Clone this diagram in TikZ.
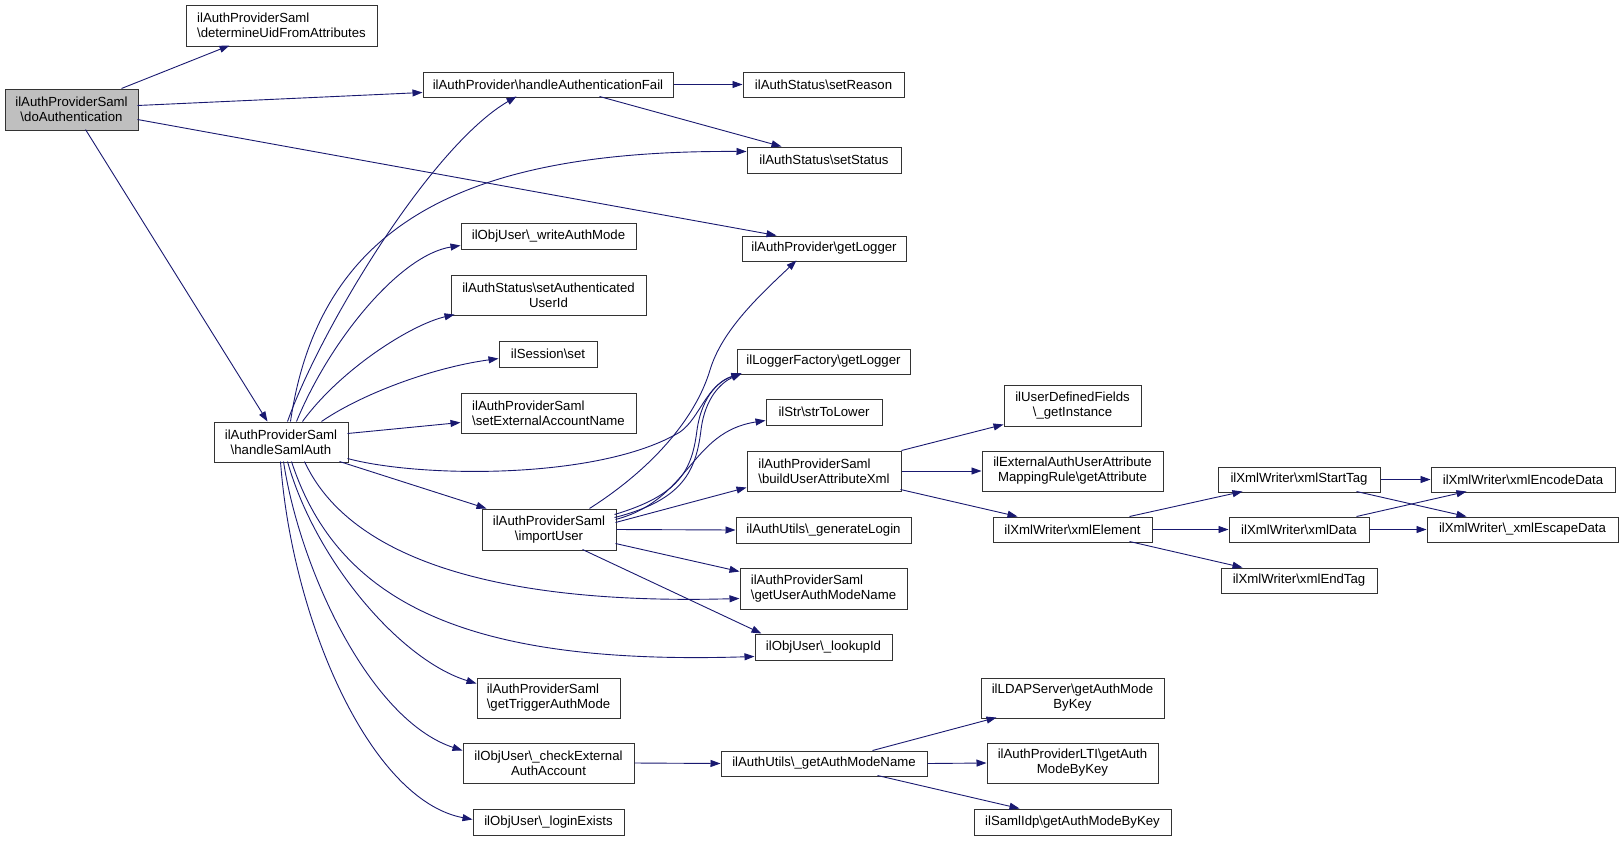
\documentclass[tikz,border=0pt]{standalone}
\usepackage{fontspec}
\setmainfont{Liberation Sans}
\usetikzlibrary{arrows.meta,calc}
\definecolor{eblue}{HTML}{191970}
\definecolor{rootfill}{HTML}{BFBFBF}
\newcommand\bsl{\textbackslash}
\newcommand\nfs{\fontsize{13.2}{15}\selectfont}
\begin{document}
\begin{tikzpicture}[x=1pt,y=-1pt,
  nd/.style={draw=black!80, line width=1pt, fill=white, inner sep=0pt, font=\nfs, align=center},
  ndl/.style={nd, align=left},
  ed/.style={draw=eblue, line width=0.9pt, -{Triangle[length=10pt,width=7pt]}, fill=none},
]
\useasboundingbox (0,0) rectangle (1624,841);
% nodes: center, width, height
\node[nd, fill=rootfill, minimum width=133, minimum height=41] (doAuth) at (71.5,109.5) {ilAuthProviderSaml\\\bsl doAuthentication};
\node[ndl, minimum width=191, minimum height=41] (detUid) at (281.5,25.5) {ilAuthProviderSaml\\\bsl determineUidFromAttributes};
\node[nd, minimum width=250, minimum height=25] (hAF) at (548,84.5) {ilAuthProvider\bsl handleAuthenticationFail};
\node[nd, minimum width=161, minimum height=25] (setReason) at (823.5,84.5) {ilAuthStatus\bsl setReason};
\node[nd, minimum width=154, minimum height=26] (setStatus) at (824,160) {ilAuthStatus\bsl setStatus};
\node[nd, minimum width=164, minimum height=25] (apLog) at (824,248.5) {ilAuthProvider\bsl getLogger};
\node[nd, minimum width=175, minimum height=26] (writeAM) at (548.5,236) {ilObjUser\bsl\_writeAuthMode};
\node[nd, minimum width=195, minimum height=40] (setAU) at (548.5,295) {ilAuthStatus\bsl setAuthenticated\\UserId};
\node[nd, minimum width=98, minimum height=26] (sess) at (548,354) {ilSession\bsl set};
\node[ndl, minimum width=175, minimum height=40] (setEA) at (548.5,413) {ilAuthProviderSaml\\\bsl setExternalAccountName};
\node[nd, minimum width=134, minimum height=40] (hSA) at (281,442) {ilAuthProviderSaml\\\bsl handleSamlAuth};
\node[nd, minimum width=173, minimum height=25] (lfLog) at (823.5,361.5) {ilLoggerFactory\bsl getLogger};
\node[nd, minimum width=116, minimum height=26] (strLow) at (824,412) {ilStr\bsl strToLower};
\node[ndl, minimum width=154, minimum height=40] (bXml) at (824,471) {ilAuthProviderSaml\\\bsl buildUserAttributeXml};
\node[nd, minimum width=175, minimum height=26] (genLogin) at (823.5,530) {ilAuthUtils\bsl\_generateLogin};
\node[ndl, minimum width=167, minimum height=41] (gUAMN) at (823.5,588.5) {ilAuthProviderSaml\\\bsl getUserAuthModeName};
\node[nd, minimum width=137, minimum height=41] (udf) at (1072.5,405.5) {ilUserDefinedFields\\\bsl\_getInstance};
\node[nd, minimum width=181, minimum height=40] (extAttr) at (1072.5,471) {ilExternalAuthUserAttribute\\MappingRule\bsl getAttribute};
\node[nd, minimum width=159, minimum height=25] (xEl) at (1072.5,529.5) {ilXmlWriter\bsl xmlElement};
\node[nd, minimum width=134, minimum height=41] (impU) at (549,529.5) {ilAuthProviderSaml\\\bsl importUser};
\node[nd, minimum width=162, minimum height=25] (xST) at (1299,479.5) {ilXmlWriter\bsl xmlStartTag};
\node[nd, minimum width=184, minimum height=25] (xED) at (1523,479.5) {ilXmlWriter\bsl xmlEncodeData};
\node[nd, minimum width=140, minimum height=25] (xD) at (1299,529.5) {ilXmlWriter\bsl xmlData};
\node[nd, minimum width=191, minimum height=25] (xESC) at (1522.5,529.5) {ilXmlWriter\bsl\_xmlEscapeData};
\node[nd, minimum width=156, minimum height=25] (xET) at (1299,580.5) {ilXmlWriter\bsl xmlEndTag};
\node[nd, minimum width=137, minimum height=26] (lookup) at (823.5,647) {ilObjUser\bsl\_lookupId};
\node[ndl, minimum width=143, minimum height=40] (gTAM) at (548.5,698) {ilAuthProviderSaml\\\bsl getTriggerAuthMode};
\node[nd, minimum width=171, minimum height=40] (chk) at (548.5,763) {ilObjUser\bsl\_checkExternal\\AuthAccount};
\node[nd, minimum width=151, minimum height=26] (login) at (548.5,822) {ilObjUser\bsl\_loginExists};
\node[nd, minimum width=206, minimum height=25] (gAMN) at (824,763.5) {ilAuthUtils\bsl\_getAuthModeName};
\node[nd, minimum width=183, minimum height=40] (ldap) at (1072.5,698) {ilLDAPServer\bsl getAuthMode\\ByKey};
\node[nd, minimum width=171, minimum height=40] (lti) at (1072.5,763) {ilAuthProviderLTI\bsl getAuth\\ModeByKey};
\node[nd, minimum width=197, minimum height=26] (sIdp) at (1072.5,822) {ilSamlIdp\bsl getAuthModeByKey};
% edges from doAuthentication
\draw[ed] ($(doAuth.north west)+(117,0)$) -- ($(detUid.north west)+(44,41)$);
\draw[ed] ($(doAuth.north west)+(133,17)$) -- ($(hAF.north west)+(0,21)$);
\draw[ed] ($(doAuth.north west)+(133,31)$) -- ($(apLog.north west)+(35,0)$);
\draw[ed] ($(doAuth.north west)+(81,41)$) -- ($(hSA.north west)+(54,0)$);
% handleAuthenticationFail
\draw[ed] (hAF.east) -- (setReason.west);
\draw[ed] ($(hAF.north west)+(177,25)$) -- ($(setStatus.north west)+(35,0)$);
% handleSamlAuth upward
\draw[ed] ($(hSA.north west)+(74,0)$) .. controls (320,330) and (430,147) .. ($(hAF.north west)+(94,25)$);
\draw[ed] ($(hSA.north west)+(77,0)$) .. controls (320,220) and (470,150) .. ($(setStatus.north west)+(0,5)$);
\draw[ed] ($(hSA.north west)+(83,0)$) .. controls (330,340) and (400,255) .. ($(writeAM.north west)+(0,23)$);
\draw[ed] ($(hSA.north west)+(89,0)$) .. controls (340,370) and (410,325) .. ($(setAU.north west)+(4,40)$);
\draw[ed] ($(hSA.north west)+(108,0)$) .. controls (360,395) and (430,368) .. ($(sess.north west)+(0,18)$);
\draw[ed] ($(hSA.north west)+(134,12)$) -- ($(setEA.north west)+(0,30)$);
\draw[ed] ($(hSA.north west)+(134,37)$) .. controls (420,478) and (600,480) .. (680,432) .. controls (700,418) and (706,385) .. ($(lfLog.north west)+(5,25)$);
\draw[ed] ($(hSA.north west)+(126,40)$) -- ($(impU.north west)+(5,0)$);
% handleSamlAuth downward
\draw[ed] ($(hSA.north west)+(91,40)$) .. controls (350,560) and (500,605) .. ($(gUAMN.north west)+(0,31)$);
\draw[ed] ($(hSA.north west)+(78,40)$) .. controls (340,610) and (480,665) .. ($(lookup.north west)+(0,23)$);
\draw[ed] ($(hSA.north west)+(74,40)$) .. controls (315,560) and (400,660) .. ($(gTAM.north west)+(0,6)$);
\draw[ed] ($(hSA.north west)+(70,40)$) .. controls (300,570) and (370,720) .. ($(chk.north west)+(0,8)$);
\draw[ed] ($(hSA.north west)+(67,40)$) .. controls (292,620) and (370,800) .. ($(login.north west)+(0,11)$);
% importUser
\draw[ed] ($(impU.north west)+(108,0)$) .. controls (650,470) and (695,420) .. (710,370) .. controls (722,330) and (760,295) .. ($(apLog.north west)+(55,25)$);
\draw[ed] ($(impU.north west)+(133,6)$) .. controls (680,495) and (692,470) .. (697,430) .. controls (702,395) and (720,380) .. ($(lfLog.north west)+(5,25)$);
\draw[ed] ($(impU.north west)+(133,9)$) .. controls (684,500) and (696,470) .. (701,430) .. controls (705,397) and (722,382) .. ($(lfLog.north west)+(5,25)$);
\draw[ed] ($(impU.north west)+(134,11)$) .. controls (690,500) and (690,432) .. ($(strLow.north west)+(0,22)$);
\draw[ed] ($(impU.north west)+(134,14)$) -- ($(bXml.north west)+(0,37)$);
\draw[ed] (impU.east) -- (genLogin.west);
\draw[ed] ($(impU.north west)+(134,35)$) -- ($(gUAMN.north west)+(0,4)$);
\draw[ed] ($(impU.north west)+(101,41)$) -- ($(lookup.north west)+(7,0)$);
% buildUserAttributeXml
\draw[ed] (bXml.north east) -- ($(udf.north west)+(0,40)$);
\draw[ed] (bXml.east) -- (extAttr.west);
\draw[ed] ($(bXml.north west)+(154,39)$) -- ($(xEl.north west)+(25,0)$);
% xmlElement
\draw[ed] ($(xEl.north west)+(137,0)$) -- ($(xST.north west)+(25,25)$);
\draw[ed] (xEl.east) -- (xD.west);
\draw[ed] ($(xEl.north west)+(137,25)$) -- ($(xET.north west)+(22,0)$);
% xmlStartTag / xmlData
\draw[ed] (xST.east) -- (xED.west);
\draw[ed] ($(xST.north west)+(139,25)$) -- ($(xESC.north west)+(40,0)$);
\draw[ed] ($(xD.north west)+(128,0)$) -- ($(xED.north west)+(36,25)$);
\draw[ed] (xD.east) -- (xESC.west);
% checkExternal / getAuthModeName
\draw[ed] (chk.east) -- (gAMN.west);
\draw[ed] ($(gAMN.north west)+(152,0)$) -- ($(ldap.north west)+(16,40)$);
\draw[ed] (gAMN.east) -- (lti.west);
\draw[ed] ($(gAMN.north west)+(157,25)$) -- ($(sIdp.north west)+(46,0)$);
\end{tikzpicture}
\end{document}
